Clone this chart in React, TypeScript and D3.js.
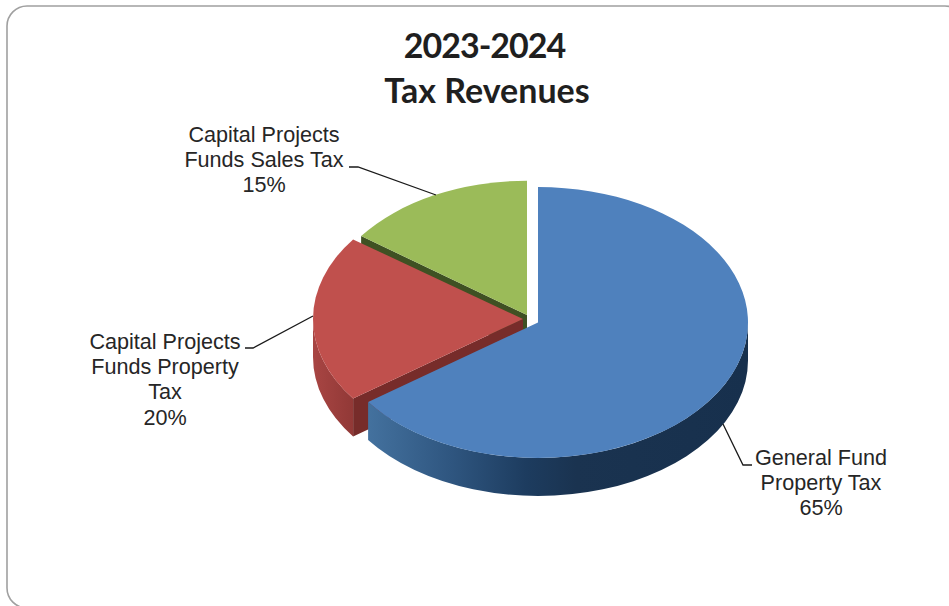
import React from "react";
import * as d3 from "d3";

const W = 949, H = 606;
const titleLines = ["2023-2024", "Tax Revenues"];
const categories = ["General Fund Property Tax", "Capital Projects Funds Property Tax", "Capital Projects Funds Sales Tax"];
const shares = [65, 20, 15];
const labelLines = [
  ["General Fund", "Property Tax", "65%"],
  ["Capital Projects", "Funds Property", "Tax", "20%"],
  ["Capital Projects", "Funds Sales Tax", "15%"],
];

const topColors = ["#4f81bd", "#c0504d", "#9bbb59"];
const cutColors = ["#3d6a9b", "#772c2a", "#3f5123"];
const sliceCenters = [{ x: 538, y: 322.5 }, { x: 523, y: 319 }, { x: 527, y: 315 }];
const radii = [210, 210, 205];
const squashes = [0.645, 0.645, 0.655];
const depth = 38;
const labelCenters = [821, 165, 264];
const labelBaselines = [465, 349, 142];
const leaders: [number, number][][] = [
  [[723, 424], [743, 465], [752, 465]],
  [[313, 316], [253, 348], [245, 348]],
  [[436, 195], [358, 167], [349, 167]],
];

export default function App() {
  const arcs = d3.pie<number>().sort(null).value((d) => d)(shares);
  const pt = (i: number, a: number, dy = 0) => {
    const c = sliceCenters[i], r = radii[i];
    return [c.x + r * Math.sin(a), c.y - r * squashes[i] * Math.cos(a) + dy];
  };
  const outerWall = (i: number, a0: number, a1: number) => {
    const rx = radii[i], ry = rx * squashes[i];
    const p0 = pt(i, a0), p1 = pt(i, a1), q1 = pt(i, a1, depth), q0 = pt(i, a0, depth);
    return `M${p0}A${rx},${ry} 0 0 1 ${p1}L${q1}A${rx},${ry} 0 0 0 ${q0}Z`;
  };
  const cutWall = (i: number, a: number) => {
    const c = sliceCenters[i];
    const p = pt(i, a), q = pt(i, a, depth);
    return `M${c.x},${c.y}L${p}L${q}L${c.x},${c.y + depth}Z`;
  };
  const top = (i: number) =>
    d3.arc<any>().innerRadius(0).outerRadius(radii[i])(arcs[i]) as string;
  const leaderLine = d3.line();
  const order = [2, 1, 0];
  const halfPi = Math.PI / 2;

  return (
    <svg width={W} height={H} viewBox={`0 0 ${W} ${H}`} style={{ position: "absolute", left: 0, top: 0, display: "block", background: "#fff" }}>
      <defs>
        <linearGradient id="blueWall" gradientUnits="userSpaceOnUse" x1={366} x2={748} y1={0} y2={0}>
          <stop offset="0" stopColor="#44729f" />
          <stop offset="0.22" stopColor="#2f5680" />
          <stop offset="0.42" stopColor="#1d3c5f" />
          <stop offset="0.55" stopColor="#1a3350" />
          <stop offset="1" stopColor="#17304d" />
        </linearGradient>
        <linearGradient id="redWall" gradientUnits="userSpaceOnUse" x1={313} x2={352} y1={0} y2={0}>
          <stop offset="0" stopColor="#a84543" />
          <stop offset="1" stopColor="#923937" />
        </linearGradient>
      </defs>
      <rect x={7} y={6} width={958} height={602} rx={20} ry={20} fill="#fff" stroke="#a0a0a0" strokeWidth={1.6} />

      {order.map((i) => {
        const c = sliceCenters[i];
        const a = arcs[i];
        return (
          <g key={categories[i]}>
            {i === 0 && <path d={outerWall(0, halfPi, a.endAngle)} fill="url(#blueWall)" />}
            {i === 1 && <path d={outerWall(1, a.startAngle, Math.PI * 1.5)} fill="url(#redWall)" />}
            {i === 1 && <path d={cutWall(1, a.startAngle)} fill={cutColors[1]} />}
            {i === 2 && <path d={cutWall(2, a.startAngle)} fill={cutColors[2]} />}
            <path d={top(i)} transform={`translate(${c.x},${c.y}) scale(1,${squashes[i]})`} fill={topColors[i]} />
          </g>
        );
      })}

      {leaders.map((pts, i) => (
        <path key={i} d={leaderLine(pts) as string} fill="none" stroke="#1a1a1a" strokeWidth={1.3} />
      ))}

      {labelLines.map((lines, i) => (
        <text key={i} textAnchor="middle" fontFamily="'Liberation Sans', Arial, sans-serif" fontSize={21.6} fill="#262626">
          {lines.map((l, k) => (
            <tspan key={k} x={labelCenters[i]} y={labelBaselines[i] + k * 25.2}>{l}</tspan>
          ))}
        </text>
      ))}

      <text textAnchor="middle" fontFamily="Lato, sans-serif" fontWeight={700} fontSize={34} fill="#1f1f1f">
        <tspan x={484.5} y={58} letterSpacing={-1}>{titleLines[0]}</tspan>
        <tspan x={487} y={103}>{titleLines[1]}</tspan>
      </text>
    </svg>
  );
}
